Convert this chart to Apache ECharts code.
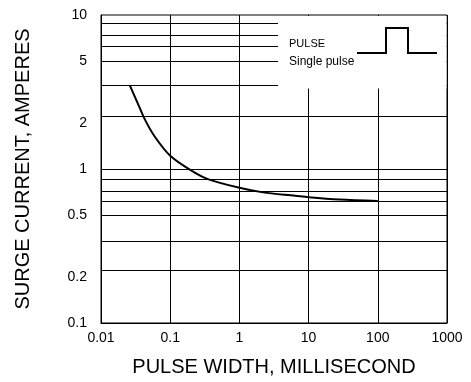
<!DOCTYPE html>
<html>
<head>
<meta charset="utf-8">
<script src="https://cdn.jsdelivr.net/npm/echarts@6/dist/echarts.min.js"></script>
<style>
html,body{margin:0;padding:0;background:#fff;}
#chart{width:471px;height:382px;}
</style>
</head>
<body>
<div id="chart"></div>
<script>
// Pulse width (ms) and surge current (A)
var pulseWidth = [0.026, 0.033, 0.043, 0.06, 0.1, 0.2, 0.35, 1, 2.2, 6.4, 10, 28, 100];
var surgeCurrent = [3.5, 2.75, 2.1, 1.62, 1.22, 0.98, 0.86, 0.755, 0.705, 0.67, 0.655, 0.633, 0.62];

// Axis tick labels
var yTickLabels = [0.1, 0.2, 0.5, 1, 2, 5, 10];
var xTickLabels = [0.01, 0.1, 1, 10, 100, 1000];
// Horizontal grid lines as drawn in the reference
var yGridLines = [8.8, 7.4, 6.3, 5, 3.5, 2.2, 1, 0.86, 0.72, 0.62, 0.5, 0.34, 0.22];

var xTitle = 'PULSE WIDTH, MILLISECOND';
var yTitle = 'SURGE CURRENT, AMPERES';
var legendTitle = 'PULSE';
var legendSub = 'Single pulse';

var font = 'Liberation Sans, Arial, sans-serif';
function fmt(v) { return String(parseFloat(Number(v).toPrecision(6))); }

var chart = echarts.init(document.getElementById('chart'), null, {renderer: 'canvas'});
var seriesData = pulseWidth.map(function (x, i) { return [x, surgeCurrent[i]]; });

chart.setOption({
  animation: false,
  backgroundColor: '#fff',
  textStyle: {fontFamily: font},
  grid: {left: 101, right: 24, top: 15, bottom: 52, show: true, borderColor: '#000', borderWidth: 1, backgroundColor: 'transparent'},
  xAxis: {
    type: 'log', logBase: 10, min: 0.01, max: 1000,
    name: xTitle, nameLocation: 'middle', nameGap: 34,
    nameTextStyle: {fontSize: 20, color: '#000', fontFamily: font},
    axisLine: {show: true, lineStyle: {color: '#000', width: 1}},
    axisTick: {show: false, customValues: xTickLabels},
    axisLabel: {customValues: xTickLabels, fontSize: 14, color: '#000', margin: 8, fontFamily: font, formatter: fmt},
    splitLine: {show: true, lineStyle: {color: '#000', width: 1}},
    minorTick: {show: false}, minorSplitLine: {show: false}
  },
  yAxis: {
    type: 'log', logBase: 10, min: 0.1, max: 10,
    name: yTitle, nameLocation: 'middle', nameGap: 68,
    nameTextStyle: {fontSize: 20, color: '#000', fontFamily: font},
    axisLine: {show: true, lineStyle: {color: '#000', width: 1}},
    axisTick: {show: false, customValues: yGridLines},
    axisLabel: {customValues: yTickLabels, fontSize: 14, color: '#000', margin: 14, fontFamily: font, formatter: fmt},
    splitLine: {show: true, lineStyle: {color: '#000', width: 1}},
    minorTick: {show: false}, minorSplitLine: {show: false}
  },
  series: [{
    type: 'line',
    data: seriesData,
    smooth: 0.3,
    showSymbol: false,
    symbol: 'none',
    lineStyle: {color: '#000', width: 2},
    z: 5
  }],
  graphic: [
    {type: 'rect', shape: {x: 278, y: 16, width: 168.5, height: 72.5}, style: {fill: '#fff'}, z: 50, silent: true},
    {type: 'text', left: 289, top: 38, style: {text: legendTitle, fontSize: 11, fill: '#000', fontFamily: font}, z: 60},
    {type: 'text', left: 289, top: 56, style: {text: legendSub, fontSize: 12, fill: '#000', fontFamily: font}, z: 60},
    {type: 'polyline', shape: {points: [[357,53],[386,53],[386,28],[408,28],[408,53],[437,53]]}, style: {stroke: '#000', lineWidth: 2, fill: null}, z: 60}
  ]
});
</script>
</body>
</html>
